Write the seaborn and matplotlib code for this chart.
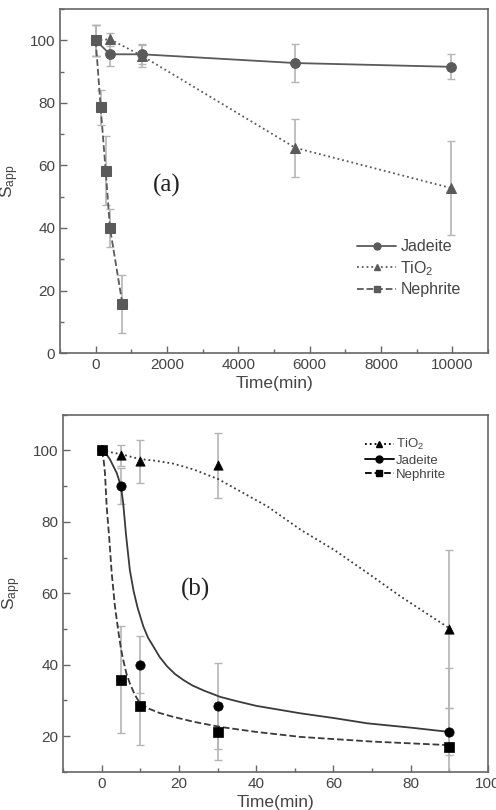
import numpy as np
import pandas as pd
import matplotlib.pyplot as plt
import seaborn as sns
from matplotlib.lines import Line2D
from matplotlib.ticker import MultipleLocator

sns.set_style('ticks')
plt.rcParams['font.family'] = ['Liberation Sans', 'DejaVu Sans']
plt.rcParams['mathtext.default'] = 'regular'

# ---- panel (a): long exposure, points joined by straight lines
a_jad_t = [0, 400, 1300, 5600, 9950]
a_jad_s = [100, 95.5, 95.5, 92.7, 91.5]
a_jad_e = [5, 3.8, 3.2, 6, 4]

a_tio_t = [0, 400, 1300, 5600, 9950]
a_tio_s = [100, 100.3, 95, 65.6, 52.8]
a_tio_e = [5, 2, 3.5, 9.3, 15]

a_nep_t = [0, 140, 280, 400, 750]
a_nep_s = [100, 78.5, 58.3, 40, 15.7]
a_nep_e = [5, 5.5, 11, 6, 9.2]

# ---- panel (b): short exposure, measured points + fitted curves
b_t = [0, 5, 10, 30, 90]
b_tio_s = [100, 98.6, 97, 95.8, 50]
b_tio_e = [0, 3, 6, 9, 22]
b_jad_s = [100, 90, 40, 28.5, 21.3]
b_jad_e = [0, 5, 8, 12, 6.6]
b_nep_s = [100, 35.8, 28.5, 21.3, 17.1]
b_nep_e = [0, 15, 11, 8, 22]

# fitted curves
fit_tio_t = [0, 5.2, 9.9, 14, 18.6, 24, 30.3, 42.8, 51.5, 60.1, 68.8, 77.4, 90]
fit_tio_s = [100, 98.9, 97.6, 97.1, 96.3, 94.6, 91.9, 84.4, 77.8, 72.2, 65.7,
             59.1, 50.2]
fit_jad_t = [0, 1, 2.15, 3.9, 5.0, 5.6, 6.3, 7.3, 8.3, 9.3, 10.8, 12, 13.4,
             15, 16.9, 19, 21.2, 23.5, 26.4, 30.7, 35, 40, 51.5, 60, 68.8, 80, 90]
fit_jad_s = [100, 99.3, 97.5, 93.7, 90, 85, 76.5, 66.5, 60.5, 56, 50.7, 47.6,
             45.1, 42.2, 39.6, 37.4, 35.7, 34.2, 32.8, 31.0, 29.8, 28.5, 26.4,
             25.1, 23.6, 22.4, 21.2]
fit_nep_t = [0, 0.5, 0.86, 1.3, 2.0, 2.6, 3.45, 4.3, 5.0, 5.6, 6.4, 7.3, 8.5,
             9.9, 12, 15, 18.6, 24, 30.7, 40, 51.5, 70, 90]
fit_nep_s = [100, 97.5, 93.7, 84.4, 75, 65.7, 56.3, 49.5, 44.5, 41.3, 37.6, 34.8,
             31.8, 29.2, 27.8, 26.5, 25.4, 24.0, 22.6, 21.2, 19.8, 18.5, 17.5]

gray = '#5a5a5a'
errc = '#b5b5b5'
txt = '#444444'

fig = plt.figure(figsize=(4.96, 8.10), dpi=100)
ax1 = fig.add_axes([0.121, 0.564, 0.863, 0.425])
ax2 = fig.add_axes([0.127, 0.047, 0.857, 0.441])

# panel (a)
series_a = [
    ('Jadeite', a_jad_t, a_jad_s, a_jad_e, 'o', '-'),
    ('TiO$_2$', a_tio_t, a_tio_s, a_tio_e, '^', ':'),
    ('Nephrite', a_nep_t, a_nep_s, a_nep_e, 's', '--'),
]
handles_a = []
for name, t, s, e, mk, ls in series_a:
    ax1.errorbar(t, s, yerr=e, fmt='none', ecolor=errc, elinewidth=1.2,
                 capsize=3, capthick=1, zorder=1)
    df = pd.DataFrame({'t': t, 's': s})
    sns.lineplot(data=df, x='t', y='s', ax=ax1, color=gray, marker=mk,
                 markersize=7, markeredgecolor=gray, linestyle=ls,
                 linewidth=1.3, sort=False, zorder=3)
    handles_a.append(Line2D([], [], color=gray, marker=mk, markersize=5,
                            linestyle=ls, linewidth=1.3, label=name))

ax1.set_xlim(-1000, 11000)
ax1.set_ylim(0, 110)
ax1.set_xticks([0, 2000, 4000, 6000, 8000, 10000])
ax1.set_yticks([0, 20, 40, 60, 80, 100])
ax1.xaxis.set_minor_locator(MultipleLocator(1000))
ax1.yaxis.set_minor_locator(MultipleLocator(10))
ax1.set_xlabel('Time(min)', fontsize=12.5, color=txt, labelpad=3)
ax1.set_ylabel('S$_{app}$', fontsize=12.5, color=txt)
ax1.yaxis.set_label_coords(-0.09, 0.5)
ax1.text(2000, 53.6, '(a)', fontsize=18, family='Liberation Serif',
         ha='center', va='center', color='#222222')
ax1.legend(handles=handles_a, loc='lower right', bbox_to_anchor=(0.97, 0.12),
           frameon=False, fontsize=11.5, labelcolor=txt, handlelength=2.4,
           handletextpad=0.3, labelspacing=0.3)

# panel (b)
series_b = [
    ('TiO$_2$', b_tio_s, b_tio_e, fit_tio_t, fit_tio_s, '^', ':'),
    ('Jadeite', b_jad_s, b_jad_e, fit_jad_t, fit_jad_s, 'o', '-'),
    ('Nephrite', b_nep_s, b_nep_e, fit_nep_t, fit_nep_s, 's', '--'),
]
handles_b = []
for name, s, e, ft, fs, mk, ls in series_b:
    ax2.errorbar(b_t, s, yerr=e, fmt='none', ecolor=errc, elinewidth=1.2,
                 capsize=3, capthick=1, zorder=1)
    fit = pd.DataFrame({'t': ft, 's': fs})
    sns.lineplot(data=fit, x='t', y='s', ax=ax2, color='#3a3a3a',
                 linestyle=ls, linewidth=1.3, sort=False, zorder=2)
    pts = pd.DataFrame({'t': b_t, 's': s})
    sns.scatterplot(data=pts, x='t', y='s', ax=ax2, color='black', marker=mk,
                    s=45, edgecolor='black', linewidth=0.5, zorder=4)
    handles_b.append(Line2D([], [], color='black', marker=mk, markersize=5,
                            linestyle=ls, linewidth=1.3, label=name))

ax2.set_xlim(-10, 100)
ax2.set_ylim(10, 110)
ax2.set_xticks([0, 20, 40, 60, 80, 100])
ax2.set_yticks([20, 40, 60, 80, 100])
ax2.xaxis.set_minor_locator(MultipleLocator(10))
ax2.yaxis.set_minor_locator(MultipleLocator(10))
ax2.set_xlabel('Time(min)', fontsize=12.5, color=txt, labelpad=3)
ax2.set_ylabel('S$_{app}$', fontsize=12.5, color=txt)
ax2.yaxis.set_label_coords(-0.095, 0.5)
ax2.text(24.3, 61, '(b)', fontsize=18, family='Liberation Serif',
         ha='center', va='center', color='#222222')
ax2.legend(handles=handles_b, loc='upper right', bbox_to_anchor=(0.93, 0.97),
           frameon=False, fontsize=9.5, labelcolor=txt, handlelength=2.2,
           handletextpad=0.2, labelspacing=0.15)

for ax in (ax1, ax2):
    for sp in ax.spines.values():
        sp.set_color('#666666')
        sp.set_linewidth(1.2)
    ax.tick_params(which='major', direction='in', length=5, width=1,
                   colors='#666666', labelcolor=txt, labelsize=11,
                   top=False, right=False)
    ax.tick_params(which='minor', direction='in', length=3, width=1,
                   colors='#666666', top=False, right=False)

fig.savefig('out.png', dpi=100)
